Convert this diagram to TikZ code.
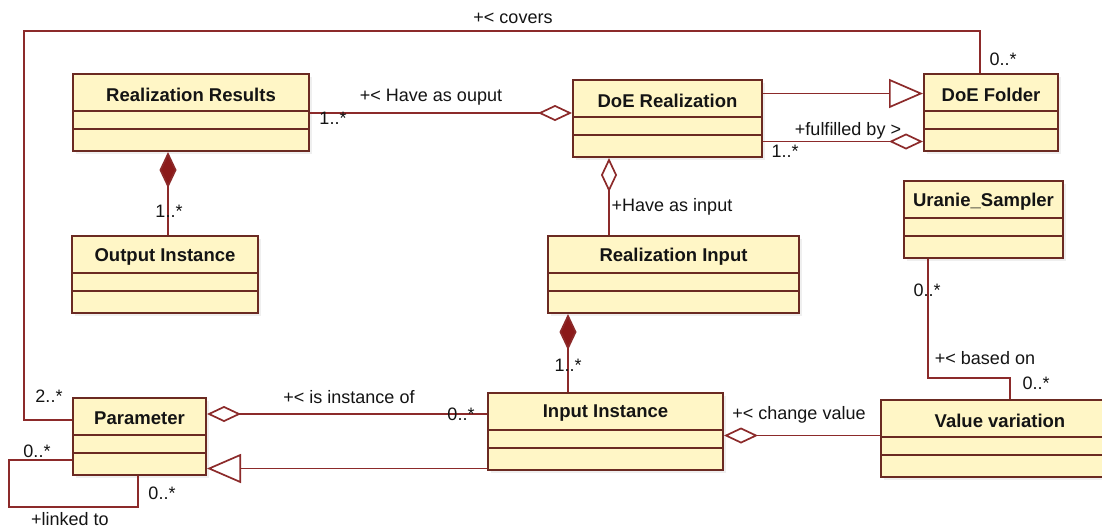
\documentclass[tikz,border=0pt]{standalone}
\usepackage{fontspec}
\setmainfont{Liberation Sans}
\usetikzlibrary{arrows.meta,shadows}
\definecolor{boxfill}{HTML}{FFF6C6}
\definecolor{boxdraw}{HTML}{6B2A22}
\definecolor{linecol}{HTML}{8C2A2A}
\definecolor{compcol}{HTML}{8B1A1A}
\definecolor{txtcol}{HTML}{141414}
\tikzset{
 clsbox/.style={draw=boxdraw, line width=2pt, fill=boxfill, minimum height=77pt, inner sep=0pt,
   drop shadow={shadow xshift=3pt, shadow yshift=-3pt, opacity=0.12}},
 clstitle/.style={font=\fontsize{18.5}{21}\selectfont\bfseries, text=txtcol, inner sep=0pt},
 clsdiv/.style={draw=boxdraw, line width=1.7pt},
 conn/.style={draw=linecol, line width=1.7pt},
 lbl/.style={font=\fontsize{18}{21}\selectfont, text=txtcol, inner sep=0pt},
 aggend/.style={conn, -{Diamond[fill=white, length=34pt, width=16pt]}},
 aggstart/.style={conn, {Diamond[fill=white, length=34pt, width=16pt]}-},
 compstart/.style={conn, {Diamond[fill=compcol, length=36pt, width=17pt]}-},
 genend/.style={conn, -{Triangle[fill=white, length=34pt, width=29pt]}},
}
\newcommand\umlbox[5]{%
 \node[clsbox, minimum width=#4pt, anchor=north west] (#1) at (#2,#3) {};
 \node[clstitle] (#1-t) at ([yshift=-21.5pt]#1.north) {#5};
 \draw[clsdiv] ([yshift=-38pt]#1.north west) -- ([yshift=-38pt]#1.north east);
 \draw[clsdiv] ([yshift=-56pt]#1.north west) -- ([yshift=-56pt]#1.north east);
}
\begin{document}
\begin{tikzpicture}[x=1pt,y=-1pt]
\useasboundingbox (0,0) rectangle (1102,528);
\fill[white] (0,0) rectangle (1102,528);
\clip (0,0) rectangle (1102,528);

% classes
\umlbox{rr}{72}{73}{236}{Realization Results}
\umlbox{dr}{572}{79}{189}{DoE Realization}
\umlbox{df}{923}{73}{134}{DoE Folder}
\umlbox{oi}{71}{235}{186}{Output Instance}
\umlbox{ri}{547}{235}{251}{Realization Input}
\umlbox{us}{903}{180}{159}{Uranie\_Sampler}
\umlbox{ii}{487}{392}{235}{Input Instance}
\umlbox{pa}{72}{397}{133}{Parameter}
\umlbox{vv}{880}{399}{238}{Value variation}

% helper coordinates
\coordinate (cTL) at (24,31);
\coordinate (bend) at (1010,378);
\coordinate (lp) at (9,507);

% connectors
\draw[conn] ([xshift=57pt]df.north west) |- (cTL) |- ([yshift=16.5pt]pa.west);
\draw[aggend] ([yshift=-0.5pt]rr.east) -- ([yshift=-0.5pt]rr.east -| dr.west);
\draw[genend] ([yshift=25pt]dr.east) -- ([yshift=25pt]dr.east -| df.west);
\draw[aggend] ([yshift=-23pt]dr.east) -- ([yshift=-23pt]dr.east -| df.west);
\draw[aggstart] ([xshift=37pt]dr.south west) -- ([xshift=37pt]dr.south west |- ri.north);
\draw[compstart] ([xshift=96pt]rr.south west) -- ([xshift=96pt]rr.south west |- oi.north);
\draw[compstart] ([xshift=21pt]ri.south west) -- ([xshift=21pt]ri.south west |- ii.north);
\draw[conn] ([xshift=25pt]us.south west) |- (bend) -- (bend |- vv.north);
\draw[aggstart] ([yshift=-4pt]ii.east) -- ([yshift=-4pt]ii.east -| vv.west);
\draw[aggstart] ([yshift=22.5pt]pa.east) -- ([yshift=22.5pt]pa.east -| ii.west);
\draw[genend] ([yshift=-37pt]ii.west) -- ([yshift=-37pt]ii.west -| pa.east);
\draw[conn] ([yshift=-23.5pt]pa.west) -| (lp) -| ([xshift=66pt]pa.south west);

% labels
\node[lbl] (l1) at (513,18) {+< covers};
\node[lbl] (l2) at (1003,59) {0..*};
\node[lbl] (l3) at (431,97) {+< Have as ouput};
\node[lbl] (l4) at (333,118) {1..*};
\node[lbl] (l5) at (848,131) {+fulfilled by >};
\node[lbl] (l6) at (785,151) {1..*};
\node[lbl] (l7) at (672,207) {+Have as input};
\node[lbl] (l8) at (169,211) {1..*};
\node[lbl] (l9) at (927,290) {0..*};
\node[lbl] (l10) at (985,358) {+< based on};
\node[lbl] (l11) at (1036,383) {0..*};
\node[lbl] (l12) at (568,365) {1..*};
\node[lbl] (l13) at (49,396) {2..*};
\node[lbl] (l14) at (349,397) {+< is instance of};
\node[lbl] (l15) at (461,414) {0..*};
\node[lbl] (l16) at (799,415) {+< change value};
\node[lbl] (l17) at (37,451) {0..*};
\node[lbl] (l18) at (162,493) {0..*};
\node[lbl] (l19) at (70,519) {+linked to};
\end{tikzpicture}
\end{document}
